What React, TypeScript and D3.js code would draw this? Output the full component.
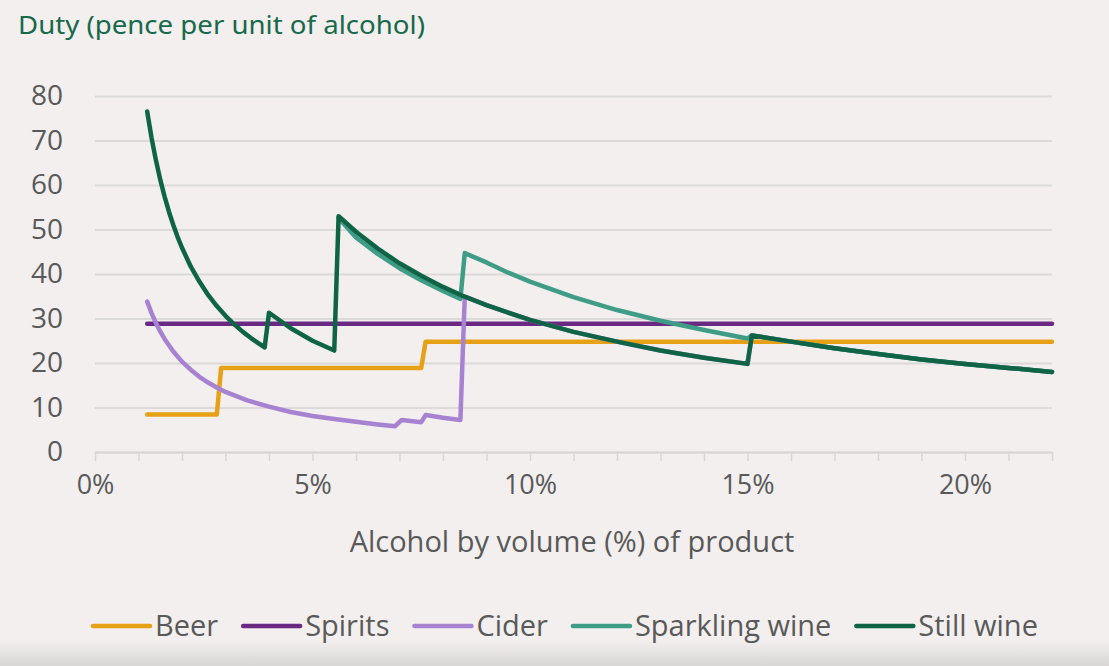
import React, { useEffect, useRef } from "react";
import * as d3 from "d3";

// ABV (%) and duty (pence per unit)
const beerAbv = [1.2, 2.8, 2.9, 7.5, 7.6, 22];
const beerDuty = [8.4, 8.4, 18.9, 18.9, 24.8, 24.8];

const spiritsAbv = [1.2, 22];
const spiritsDuty = [28.8, 28.8];

const ciderAbv = [1.2, 1.3, 1.4, 1.5, 1.6, 1.8, 2.0, 2.2, 2.4, 2.6, 2.8, 3.0, 3.5, 4.0, 4.5, 5.0, 5.5, 6.0, 6.5, 6.9, 7.05, 7.5, 7.6, 8.0, 8.4, 8.5, 9.0, 9.5, 10, 11, 12, 13, 14, 15, 15.1, 16, 17, 18, 19, 20, 21, 22];
const ciderDuty = [33.8, 31.2, 29.0, 27.1, 25.4, 22.6, 20.3, 18.5, 16.9, 15.6, 14.5, 13.5, 11.6, 10.2, 9.0, 8.1, 7.4, 6.8, 6.2, 5.8, 7.2, 6.7, 8.3, 7.7, 7.2, 34.9, 33.0, 31.3, 29.7, 27.0, 24.8, 22.8, 21.2, 19.8, 26.2, 24.8, 23.3, 22.0, 20.8, 19.8, 18.9, 18.0];

const sparklingAbv = [5.6, 6.0, 6.5, 7.0, 7.5, 8.0, 8.4, 8.5, 9.0, 9.5, 10, 11, 12, 13, 14, 15, 15.1, 16, 17, 18, 19, 20, 21, 22];
const sparklingDuty = [52.6, 48.2, 44.5, 41.3, 38.6, 36.2, 34.4, 44.7, 42.6, 40.3, 38.3, 34.8, 31.9, 29.5, 27.4, 25.5, 26.2, 24.8, 23.3, 22.0, 20.8, 19.8, 18.9, 18.0];

const stillAbv = [1.2, 1.3, 1.4, 1.5, 1.6, 1.7, 1.8, 1.9, 2.0, 2.2, 2.4, 2.6, 2.8, 3.0, 3.2, 3.4, 3.6, 3.9, 4.0, 4.5, 5.0, 5.5, 5.6, 6.0, 6.5, 7.0, 7.5, 8.0, 8.5, 9.0, 9.5, 10, 11, 12, 13, 14, 15, 15.1, 16, 17, 18, 19, 20, 21, 22];
const stillDuty = [76.5, 70.6, 65.6, 61.2, 57.4, 54.0, 51.0, 48.3, 45.9, 41.7, 38.3, 35.3, 32.8, 30.6, 28.7, 27.0, 25.5, 23.5, 31.3, 27.8, 25.0, 22.8, 53.0, 49.5, 45.7, 42.4, 39.6, 37.1, 34.9, 33.0, 31.3, 29.7, 27.0, 24.8, 22.8, 21.2, 19.8, 26.2, 24.8, 23.3, 22.0, 20.8, 19.8, 18.9, 18.0];

const seriesNames = ["Beer", "Spirits", "Cider", "Sparkling wine", "Still wine"];
const seriesColors = ["#e6a117", "#6a2a83", "#a682d0", "#3f9c86", "#0f6446"];
const yTicks = [0, 10, 20, 30, 40, 50, 60, 70, 80];
const xLabelTicks = [0, 5, 10, 15, 20];

const W = 1109;
const H = 666;

const App = () => {
  const ref = useRef<SVGSVGElement>(null);

  useEffect(() => {
    const svg = d3.select(ref.current);
    svg.selectAll("*").remove();
    const font = "'Open Sans', sans-serif";

    const defs = svg.append("defs");
    const grad = defs.append("linearGradient").attr("id", "shade").attr("x1", 0).attr("x2", 0).attr("y1", 0).attr("y2", 1);
    grad.append("stop").attr("offset", "0%").attr("stop-color", "#f2efee");
    grad.append("stop").attr("offset", "100%").attr("stop-color", "#d9d7d6");

    svg.append("rect").attr("width", W).attr("height", H).attr("fill", "#f2efee");
    svg.append("rect").attr("y", 640).attr("width", W).attr("height", 26).attr("fill", "url(#shade)");

    const x = d3.scaleLinear().domain([0, 22]).range([95, 1052]);
    const y = d3.scaleLinear().domain([0, 80]).range([452, 96]);

    // title
    svg.append("text")
      .attr("x", 18).attr("y", 34)
      .attr("font-family", "'Noto Sans', sans-serif")
      .attr("font-size", 26)
      .attr("textLength", 407)
      .attr("lengthAdjust", "spacingAndGlyphs")
      .attr("fill", "#17694b")
      .text("Duty (pence per unit of alcohol)");

    // gridlines + y labels
    const yAxis = svg.append("g")
      .attr("transform", `translate(${x(0)},0)`)
      .call(d3.axisLeft(y).tickValues(yTicks).tickSize(-(x(22) - x(0))).tickPadding(32));
    yAxis.select(".domain").remove();
    yAxis.selectAll(".tick line").attr("stroke", "#dcdad9").attr("stroke-width", 2);
    yAxis.selectAll(".tick text")
      .attr("font-family", font).attr("font-size", 28).attr("fill", "#595959");

    // x axis with minor ticks
    const xAxis = svg.append("g")
      .attr("transform", `translate(0,${y(0)})`)
      .call(d3.axisBottom(x).tickValues(d3.range(0, 23)).tickSize(9).tickSizeOuter(0)
        .tickFormat((d) => (xLabelTicks.includes(d as number) ? `${d}%` : "")).tickPadding(14));
    xAxis.select(".domain").attr("stroke", "#d9d7d6").attr("stroke-width", 2);
    xAxis.selectAll(".tick line").attr("stroke", "#d9d7d6").attr("stroke-width", 1.5);
    xAxis.selectAll(".tick text")
      .attr("font-family", font).attr("font-size", 27).attr("fill", "#595959");

    svg.append("text")
      .attr("x", 572).attr("y", 552)
      .attr("text-anchor", "middle")
      .attr("font-family", font).attr("font-size", 29).attr("fill", "#595959")
      .text("Alcohol by volume (%) of product");

    const allAbv = [beerAbv, spiritsAbv, ciderAbv, sparklingAbv, stillAbv];
    const allDuty = [beerDuty, spiritsDuty, ciderDuty, sparklingDuty, stillDuty];

    const line = d3.line<[number, number]>().x((d) => x(d[0])).y((d) => y(d[1]));

    seriesNames.forEach((name, i) => {
      const pts = allAbv[i].map((a, j) => [a, allDuty[i][j]] as [number, number]);
      svg.append("path")
        .attr("d", line(pts))
        .attr("fill", "none")
        .attr("stroke", seriesColors[i])
        .attr("stroke-width", 4.5)
        .attr("stroke-linejoin", "round")
        .attr("stroke-linecap", "round");
    });

    // legend
    let lx = 93;
    const ly = 626;
    seriesNames.forEach((name, i) => {
      const g = svg.append("g");
      g.append("line")
        .attr("x1", lx).attr("x2", lx + 57).attr("y1", ly).attr("y2", ly)
        .attr("stroke", seriesColors[i]).attr("stroke-width", 4.5).attr("stroke-linecap", "round");
      const t = g.append("text")
        .attr("x", lx + 62).attr("y", ly + 10)
        .attr("font-family", font).attr("font-size", 29).attr("fill", "#595959")
        .text(name);
      const w = (t.node() as SVGTextElement).getComputedTextLength();
      lx = lx + 62 + w + 25;
    });
  }, []);

  return (
    <div style={{ position: "absolute", left: 0, top: 0 }}>
      <svg ref={ref} width={W} height={H} style={{ display: "block" }} />
    </div>
  );
};

export default App;
